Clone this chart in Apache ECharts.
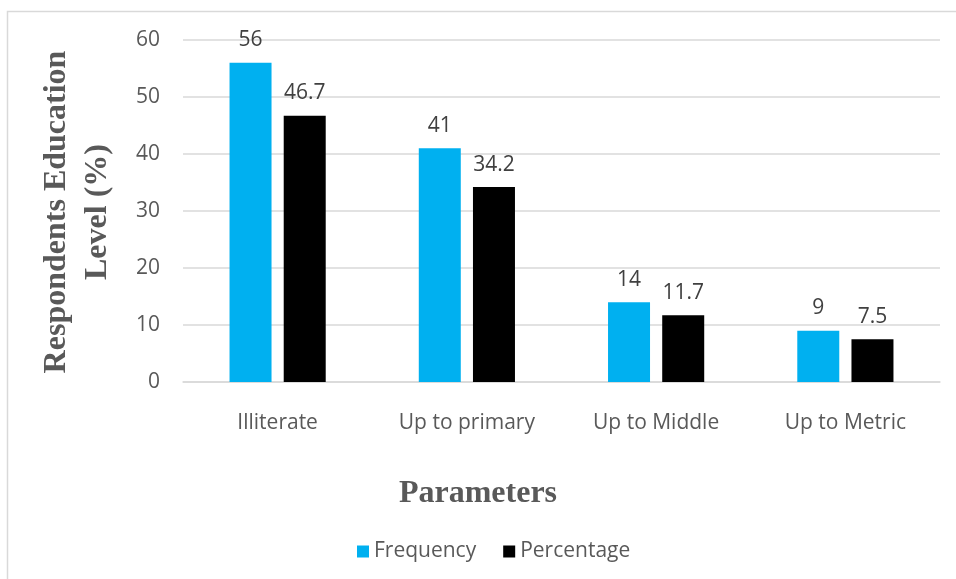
<!DOCTYPE html>
<html>
<head>
<meta charset="utf-8">
<script src="https://cdn.jsdelivr.net/npm/echarts@6/dist/echarts.min.js"></script>
<style>
  html, body { margin: 0; padding: 0; background: #fff; }
  #chart { width: 956px; height: 579px; }
</style>
</head>
<body>
<div id="chart"></div>
<script>
// Education level of respondents
const categories = ['Illiterate', 'Up to primary', 'Up to Middle', 'Up to Metric'];
const frequency = [56, 41, 14, 9];
const percentage = [46.7, 34.2, 11.7, 7.5];
const yTicks = { min: 0, max: 60, interval: 10 };

const labelFont = '"Open Sans", sans-serif';
const titleFont = '"Liberation Serif", "Times New Roman", serif';

const chart = echarts.init(document.getElementById('chart'), null, { renderer: 'canvas' });

const valueLabel = {
  show: true,
  position: 'top',
  distance: 12,
  fontFamily: labelFont,
  fontSize: 21,
  color: '#404040'
};

chart.setOption({
  animation: false,
  backgroundColor: '#ffffff',
  graphic: [
    {
      type: 'rect',
      shape: { x: 7.5, y: 11.5, width: 960, height: 600 },
      style: { fill: 'none', stroke: '#d9d9d9', lineWidth: 1.5 },
      silent: true
    },
    {
      type: 'text',
      left: 'center',
      top: 478,
      style: {
        text: 'Parameters',
        font: 'bold 32px ' + titleFont,
        fill: '#595959'
      }
    },
    {
      type: 'text',
      x: 77,
      y: 212,
      rotation: Math.PI / 2,
      style: {
        text: 'Respondents Education\nLevel (%)',
        font: 'bold 32px ' + titleFont,
        fill: '#595959',
        align: 'center',
        verticalAlign: 'middle',
        lineHeight: 41
      }
    }
  ],
  grid: { left: 183, right: 16, top: 40, bottom: 197, containLabel: false },
  legend: {
    top: 536,
    left: 352,
    itemWidth: 12,
    itemHeight: 12,
    itemGap: 27,
    icon: 'rect',
    textStyle: { fontFamily: labelFont, fontSize: 21, color: '#595959' },
    data: ['Frequency', 'Percentage']
  },
  xAxis: {
    type: 'category',
    data: categories,
    axisLine: { lineStyle: { color: '#d9d9d9', width: 1.5 } },
    axisTick: { show: false },
    axisLabel: { fontFamily: labelFont, fontSize: 21, color: '#595959', margin: 31 }
  },
  yAxis: {
    type: 'value',
    min: yTicks.min,
    max: yTicks.max,
    interval: yTicks.interval,
    axisLine: { show: false },
    axisTick: { show: false },
    splitLine: { lineStyle: { color: '#d9d9d9', width: 1.5 } },
    axisLabel: { fontFamily: labelFont, fontSize: 21, color: '#595959', margin: 23 }
  },
  series: [
    {
      name: 'Frequency',
      type: 'bar',
      data: frequency,
      barWidth: 42,
      barGap: '29%',
      itemStyle: { color: '#00b0f0' },
      label: valueLabel
    },
    {
      name: 'Percentage',
      type: 'bar',
      data: percentage,
      barWidth: 42,
      itemStyle: { color: '#000000' },
      label: valueLabel
    }
  ]
});
</script>
</body>
</html>
